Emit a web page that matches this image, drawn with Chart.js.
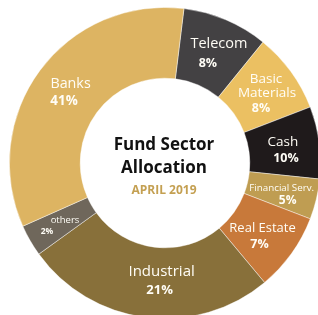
<!DOCTYPE html>
<html>
<head>
<meta charset="utf-8">
<script src="https://cdn.jsdelivr.net/npm/chart.js@4/dist/chart.umd.min.js"></script>
<style>
  html, body { margin: 0; padding: 0; background: #ffffff; width: 318px; height: 315px; overflow: hidden; }
  #wrap { position: absolute; left: 9px; top: 7px; width: 312px; height: 312px; }
</style>
</head>
<body>
<div id="wrap"><canvas id="c" width="312" height="312"></canvas></div>
<script>
// ---- data ----
const sectors = ["Telecom", "Basic Materials", "Cash", "Financial Serv.", "Real Estate", "Industrial", "others", "Banks"];
// angular share of each slice as drawn in the reference (%)
const sliceShares = [8.9, 8.3, 7.5, 4.2, 8.1, 26.1, 3.3, 33.6];
// percentages printed on the slices
const pctLabels = ["8%", "8%", "10%", "5%", "7%", "21%", "2%", "41%"];
const titleLines = ["Fund Sector", "Allocation"];
const subtitle = "APRIL 2019";

// ---- styles ----
const colors = ["#434143", "#EBC062", "#1F1A1B", "#BF9D52", "#C8793A", "#88703A", "#6F675B", "#DDB462"];
const FONT = "'Open Sans', 'DejaVu Sans', sans-serif";
// per-slice label layout: lines of name text (split), font sizes, offsets relative to arc anchor
const labelLayout = [
  { name: ["Telecom"], ns: 14.5, ps: 12.5, off: [[7, -8.5]], poff: [-4, 10.5] },
  { name: ["Basic", "Materials"], ns: 13.5, ps: 12.5, off: [[4, -13.4], [5, 0.6]], poff: [-1, 15.6] },
  { name: ["Cash"], ns: 13.5, ps: 12.5, off: [[-1, -5.3]], poff: [2, 11.7] },
  { name: ["Financial Serv."], ns: 9.8, ps: 12, off: [[0, -3]], poff: [6, 10] },
  { name: ["Real Estate"], ns: 13, ps: 12.5, off: [[0, -4.7]], poff: [-3, 11.3] },
  { name: ["Industrial"], ns: 15, ps: 13, off: [[11.6, -10]], poff: [9.6, 8] },
  { name: ["others"], ns: 9.5, ps: 8.5, off: [[4, -3]], poff: [-14, 9] },
  { name: ["Banks"], ns: 14.3, ps: 13.4, off: [[2, -8]], poff: [-4.5, 9.4] }
];

const sliceLabels = {
  id: 'sliceLabels',
  afterDatasetsDraw(chart) {
    const ctx = chart.ctx;
    const meta = chart.getDatasetMeta(0);
    ctx.save();
    ctx.textAlign = 'center';
    ctx.textBaseline = 'middle';
    meta.data.forEach((arc, i) => {
      const p = arc.getProps(['x', 'y', 'startAngle', 'endAngle', 'innerRadius', 'outerRadius'], true);
      const mid = (p.startAngle + p.endAngle) / 2;
      const r = 120;
      const ax = p.x + Math.cos(mid) * r;
      const ay = p.y + Math.sin(mid) * r;
      const L = labelLayout[i];
      ctx.fillStyle = '#FFFDF6';
      ctx.font = `400 ${L.ns}px ${FONT}`;
      L.name.forEach((t, k) => {
        ctx.fillText(t, ax + L.off[k][0], ay + L.off[k][1]);
      });
      ctx.font = `700 ${L.ps}px ${FONT}`;
      ctx.fillText(pctLabels[i], ax + L.poff[0], ay + L.poff[1]);
    });
    // center title
    const cx = meta.data[0].x, cy = meta.data[0].y;
    ctx.fillStyle = '#111111';
    ctx.font = `700 17px ${FONT}`;
    ctx.fillText(titleLines[0], cx - 1, cy - 18);
    ctx.fillText(titleLines[1], cx - 1, cy + 5);
    ctx.fillStyle = '#C4A052';
    ctx.font = `700 12px ${FONT}`;
    ctx.fillText(subtitle, cx - 1, cy + 28);
    ctx.restore();
  }
};

new Chart(document.getElementById('c'), {
  type: 'doughnut',
  data: {
    labels: sectors,
    datasets: [{
      data: sliceShares,
      backgroundColor: colors,
      borderColor: 'rgba(255,255,255,0.55)',
      borderWidth: 0.8,
      hoverOffset: 0
    }]
  },
  options: {
    responsive: false,
    animation: false,
    devicePixelRatio: 1,
    rotation: 7,
    cutout: '54.5%',
    layout: { padding: 0 },
    plugins: {
      legend: { display: false },
      tooltip: { enabled: false },
      title: { display: false }
    }
  },
  plugins: [sliceLabels]
});
</script>
</body>
</html>
